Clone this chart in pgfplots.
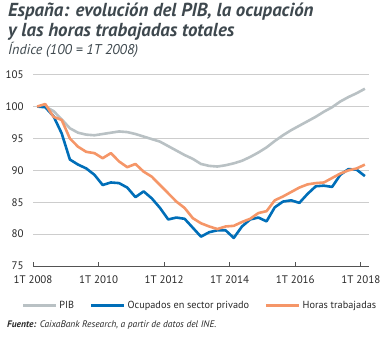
\documentclass[border=0pt]{standalone}
\usepackage{fontspec}
\setmainfont{PT Sans}
\usepackage{pgfplots}
\pgfplotsset{compat=1.18}
\definecolor{cgray}{RGB}{185,193,196}
\definecolor{cblue}{RGB}{0,110,184}
\definecolor{corange}{RGB}{245,150,104}
\definecolor{cgrid}{RGB}{205,205,205}
\definecolor{ctitle}{RGB}{62,72,78}
\definecolor{ctext}{RGB}{40,40,40}
\begin{document}
\begin{tikzpicture}
\path[use as bounding box] (0bp,0bp) rectangle (389bp,338bp);
\node[anchor=base west,inner sep=0,text=ctitle,font=\fontsize{18.9}{22}\selectfont\bfseries\itshape] at (8bp,321.3bp) {España: evolución del PIB, la ocupación};
\node[anchor=base west,inner sep=0,text=ctitle,font=\fontsize{18.9}{22}\selectfont\bfseries\itshape] at (8bp,301.3bp) {y las horas trabajadas totales};
\node[anchor=base west,inner sep=0,text=ctitle,font=\fontsize{14.2}{16}\selectfont\itshape] at (8bp,283bp) {Índice (100 = 1T 2008)};
\node[anchor=base west,inner sep=0,text=ctext,font=\fontsize{9.5}{11}\selectfont\itshape] at (7bp,11bp) {\textbf{Fuente:} CaixaBank Research, a partir de datos del INE.};
\begin{axis}[
  at={(33bp,72bp)}, anchor=south west,
  scale only axis, width=336bp, height=191.3bp,
  xmin=0, xmax=41, ymin=75, ymax=105,
  axis x line*=bottom, axis y line*=left,
  y axis line style={draw=none},
  x axis line style={draw=ctext!80, line width=0.8bp},
  ytick={75,80,...,105},
  ytick style={draw=none},
  ymajorgrids, grid style={cgrid, line width=0.8bp},
  xtick={0,8,16,24,32,40},
  xticklabels={1T 2008,1T 2010,1T 2012,1T 2014,1T 2016,1T 2018},
  xtick style={draw=ctext!80, line width=0.8bp},
  tick align=inside, major tick length=4bp,
  tick label style={font=\fontsize{11}{13}\selectfont, text=ctext},
  /pgf/number format/assume math mode=true,
  yticklabel style={xshift=-6bp},
  xticklabel style={yshift=-6bp},
  legend style={at={(0.497,-0.205)}, anchor=center, draw=none, fill=none,
    font=\fontsize{10.3}{12}\selectfont, text=ctext,
    /tikz/every even column/.append style={column sep=14bp}},
  legend columns=3,
  legend image code/.code={\draw[#1] (0bp,0bp) -- (33bp,0bp);},
  every axis plot/.append style={line width=2.6bp, line join=round},
]
\addplot[cgray, mark=none] coordinates {
(0.5,100.0)(1.5,100.0)(2.5,99.3)(3.5,98.0)(4.5,96.6)(5.5,95.9)(6.5,95.6)(7.5,95.5)(8.5,95.7)(9.5,95.9)
(10.5,96.1)(11.5,96.0)(12.5,95.7)(13.5,95.3)(14.5,94.9)(15.5,94.5)(16.5,93.8)(17.5,93.1)(18.5,92.4)(19.5,91.8)
(20.5,91.0)(21.5,90.7)(22.5,90.6)(23.5,90.8)(24.5,91.1)(25.5,91.5)(26.5,92.1)(27.5,92.8)(28.5,93.6)(29.5,94.6)
(30.5,95.5)(31.5,96.3)(32.5,97.0)(33.5,97.7)(34.5,98.4)(35.5,99.2)(36.5,99.9)(37.5,100.8)(38.5,101.5)(39.5,102.1)
(40.5,102.8)};
\addlegendentry{PIB}
\addplot[cblue, mark=none] coordinates {
(0.5,100.0)(1.5,99.9)(2.5,98.5)(3.5,95.8)(4.5,91.7)(5.5,90.9)(6.5,90.3)(7.5,89.3)(8.5,87.7)(9.5,88.1)
(10.5,88.0)(11.5,87.3)(12.5,85.8)(13.5,86.7)(14.5,85.6)(15.5,84.1)(16.5,82.3)(17.5,82.6)(18.5,82.4)(19.5,81.0)
(20.5,79.6)(21.5,80.3)(22.5,80.6)(23.5,80.6)(24.5,79.4)(25.5,81.2)(26.5,82.3)(27.5,82.6)(28.5,82.0)(29.5,84.2)
(30.5,85.1)(31.5,85.3)(32.5,84.9)(33.5,86.3)(34.5,87.5)(35.5,87.6)(36.5,87.4)(37.5,89.3)(38.5,90.2)(39.5,90.1)
(40.5,89.1)};
\addlegendentry{Ocupados en sector privado}
\addplot[corange, mark=none] coordinates {
(0.5,100.0)(1.5,100.4)(2.5,98.4)(3.5,97.9)(4.5,95.0)(5.5,93.7)(6.5,92.9)(7.5,92.7)(8.5,91.9)(9.5,92.7)
(10.5,91.4)(11.5,90.5)(12.5,91.0)(13.5,89.8)(14.5,89.0)(15.5,87.7)(16.5,86.4)(17.5,85.1)(18.5,84.1)(19.5,82.5)
(20.5,81.7)(21.5,81.2)(22.5,80.8)(23.5,81.2)(24.5,81.3)(25.5,81.9)(26.5,82.4)(27.5,83.3)(28.5,83.6)(29.5,85.3)
(30.5,85.9)(31.5,86.6)(32.5,87.3)(33.5,87.8)(34.5,88.0)(35.5,88.1)(36.5,88.8)(37.5,89.5)(38.5,90.0)(39.5,90.3)
(40.5,90.9)};
\addlegendentry{Horas trabajadas}
\end{axis}
\end{tikzpicture}
\end{document}
